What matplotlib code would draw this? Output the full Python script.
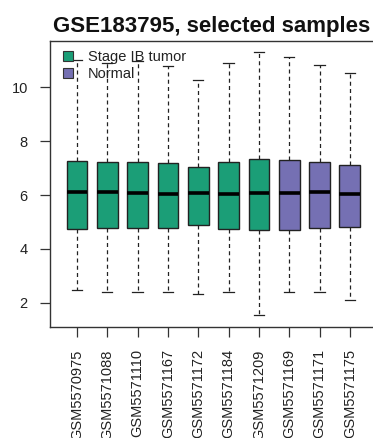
import matplotlib
matplotlib.use("Agg")
import matplotlib.pyplot as plt
from matplotlib.patches import Patch

plt.rcParams['font.family'] = ['Liberation Sans', 'DejaVu Sans']

# Sample identifiers and their group
samples = ["GSM5570975", "GSM5571088", "GSM5571110", "GSM5571167", "GSM5571172",
           "GSM5571184", "GSM5571209", "GSM5571169", "GSM5571171", "GSM5571175"]
groups = ["Stage IB tumor"] * 7 + ["Normal"] * 3

# Five-number summaries of expression per sample
whisker_low = [2.46, 2.41, 2.39, 2.40, 2.32, 2.41, 1.54, 2.39, 2.41, 2.09]
q1 = [4.75, 4.79, 4.76, 4.76, 4.89, 4.75, 4.69, 4.71, 4.79, 4.81]
median = [6.11, 6.11, 6.09, 6.05, 6.09, 6.05, 6.06, 6.06, 6.10, 6.05]
q3 = [7.25, 7.21, 7.21, 7.19, 7.03, 7.21, 7.35, 7.29, 7.23, 7.10]
whisker_high = [11.01, 10.89, 10.98, 10.79, 10.26, 10.91, 11.32, 11.14, 10.82, 10.54]

group_colors = {"Stage IB tumor": "#1B9E77", "Normal": "#7570B3"}
yticks = [2, 4, 6, 8, 10]

W, H = 373, 438
fig = plt.figure(figsize=(W / 100, H / 100), dpi=100)
# plot area runs past the right edge of the canvas
ax = fig.add_axes([50 / W, (H - 327) / H, 330 / W, (327 - 40.5) / H])

stats = [
    dict(whislo=lo, q1=a, med=m, q3=b, whishi=hi, fliers=[], label=s)
    for s, lo, a, m, b, hi in zip(samples, whisker_low, q1, median, q3, whisker_high)
]
positions = list(range(1, len(samples) + 1))
bp = ax.bxp(
    stats, positions=positions, widths=0.69, capwidths=0.34, patch_artist=True,
    showfliers=False,
    boxprops=dict(edgecolor="#222222", linewidth=1.0),
    medianprops=dict(color="black", linewidth=2.6, solid_capstyle="butt"),
    whiskerprops=dict(color="#222222", linewidth=0.9, linestyle=(0, (3.2, 2.6))),
    capprops=dict(color="#222222", linewidth=0.9),
)
for patch, g in zip(bp["boxes"], groups):
    patch.set_facecolor(group_colors[g])

ax.set_xlim(0.11, 0.11 + 330 / 30.33)
ax.set_ylim(1.10, 11.74)
ax.set_yticks(yticks)
ax.set_yticklabels([str(v) for v in yticks])
ax.set_xticks(positions)
ax.set_xticklabels(samples, rotation=90)
ax.tick_params(axis="both", length=7, width=0.9, color="#333333", labelsize=10.5,
               pad=9, labelcolor="#222222")
for sp in ax.spines.values():
    sp.set_color("#333333")
    sp.set_linewidth(1.0)

fig.text((54 + 369) / 2 / W, 1 - 31.7 / H, "GSE183795, selected samples",
         ha="center", va="baseline", fontsize=16, fontweight="bold", color="#111111")

handles = [Patch(facecolor=group_colors[k], edgecolor="#333333", linewidth=0.8, label=k)
           for k in ["Stage IB tumor", "Normal"]]
ax.legend(handles=handles, loc="upper left", bbox_to_anchor=(62.7 / W, 1 - 50 / H),
          bbox_transform=fig.transFigure, frameon=False, fontsize=10.5,
          handlelength=0.72, handleheight=0.65, handletextpad=1.0,
          labelspacing=0.2, borderpad=0, borderaxespad=0, labelcolor="#222222")

fig.savefig("out.png", dpi=100)
